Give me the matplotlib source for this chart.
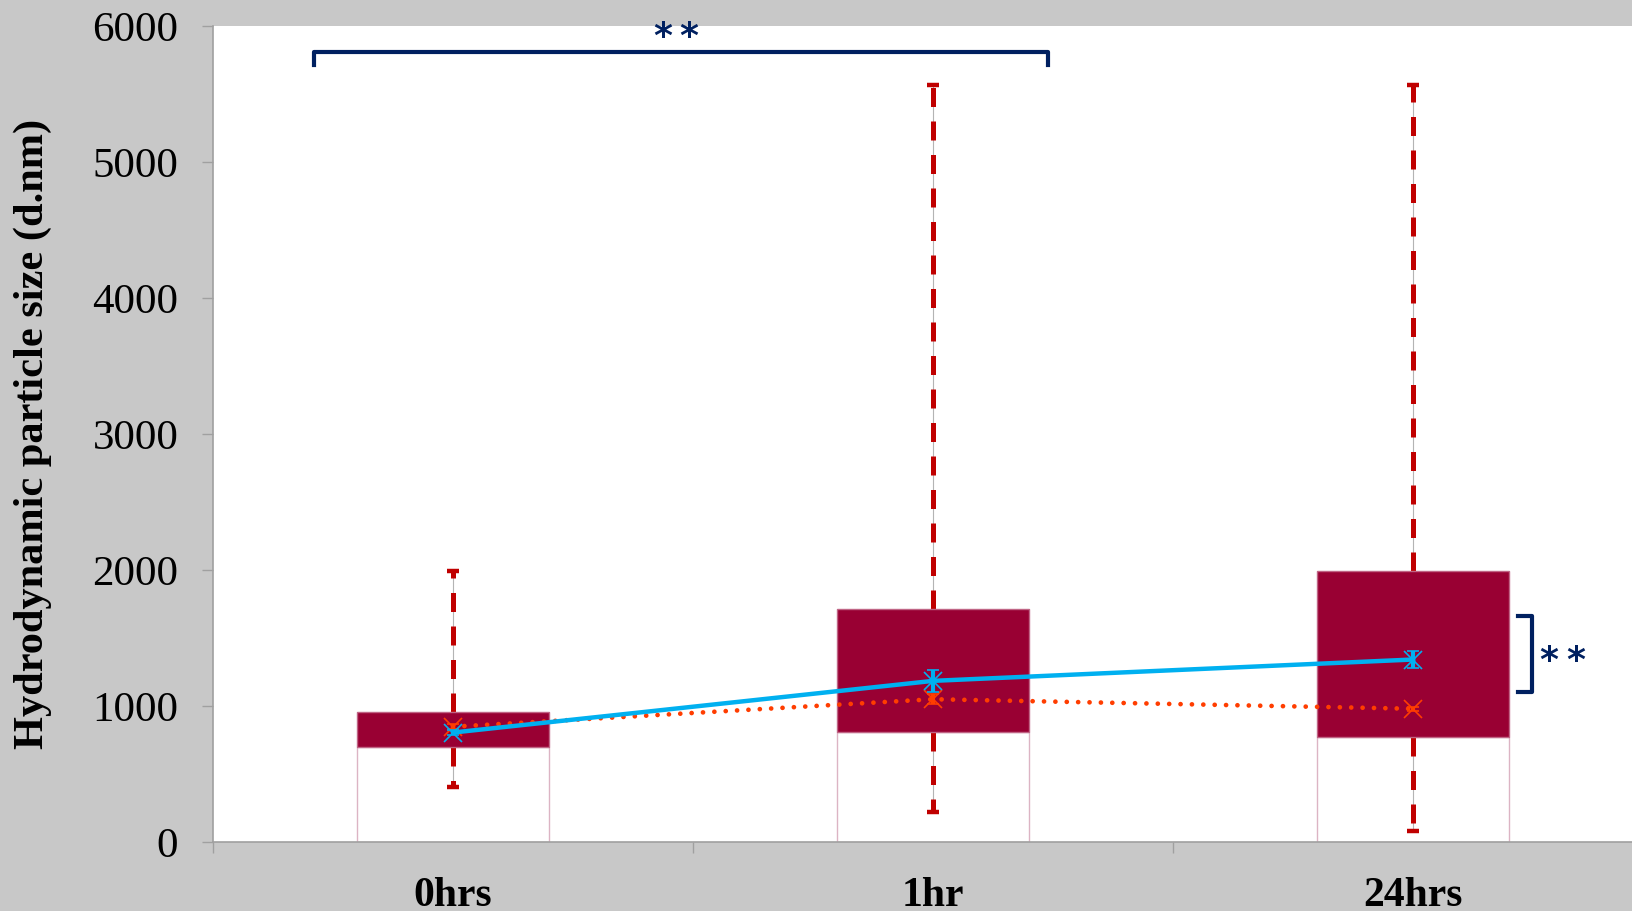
import matplotlib
matplotlib.use('Agg')
import matplotlib.pyplot as plt
import numpy as np

# box plot values (d.nm)
categories = ['0hrs', '1hr', '24hrs']
q1 = [700, 810, 775]
q3 = [955, 1710, 1990]
whisker_low = [405, 220, 80]
whisker_high = [1990, 5565, 5565]
mean_vals = [805, 1185, 1342]
mean_err = [20, 80, 65]
median_vals = [848, 1050, 980]
median_err = [20, 35, 15]

plt.rcParams['font.family'] = ['Liberation Serif', 'DejaVu Serif']

fig = plt.figure(figsize=(16.32, 9.11), dpi=100, facecolor='#c8c8c8')
ax = fig.add_axes([0.1305, 0.0757, 0.8825, 0.8958])
ax.set_facecolor('white')

x = np.arange(len(categories))
width = 0.4

# lower stacked segment (white, pink outline) and the box
ax.bar(x, q1, width, color='white', edgecolor='#dcb4c4', linewidth=1, zorder=1)
ax.bar(x, np.array(q3) - np.array(q1), width, bottom=q1, color='#990033',
       edgecolor='#c06585', linewidth=1, zorder=3)

# whiskers: thin grey line with thick red dashes
for i in range(len(categories)):
    for start, end in [(q3[i], whisker_high[i]), (q1[i], whisker_low[i])]:
        ax.plot([x[i], x[i]], [start, end], color='#b4b4b4', lw=0.8, zorder=2)
        ax.plot([x[i], x[i]], [start, end], color='#c00000', lw=3.6,
                dashes=(3.8, 2.9), solid_capstyle='butt', zorder=2)
ax.plot(x, whisker_high, ls='none', marker='_', ms=9, mew=3.2, color='#c00000', zorder=2)
ax.plot(x, whisker_low, ls='none', marker='_', ms=9, mew=3.2, color='#c00000', zorder=2)

# median (dotted orange) and mean (solid blue)
ax.errorbar(x, median_vals, yerr=median_err, color='#ff3d00', lw=3.4,
            ls=(0, (0.01, 2.4)), dash_capstyle='round', marker='x', ms=13, mew=1.2,
            ecolor='#ff3d00', elinewidth=3, capsize=4, capthick=3, zorder=4)
ax.errorbar(x, mean_vals, yerr=mean_err, color='#00b0f0', lw=3.2,
            marker='x', ms=13, mew=1.2, ecolor='#00b0f0', elinewidth=3,
            capsize=4, capthick=3, zorder=5)

# significance brackets
navy = '#002060'
ax.plot([-0.29, -0.29, 1.24, 1.24], [5710, 5810, 5810, 5710], color=navy, lw=3,
        solid_joinstyle='round', clip_on=False, zorder=6)
ax.plot([2.218, 2.248, 2.248, 2.218], [1661, 1661, 1102, 1102], color=navy, lw=3,
        solid_joinstyle='round', clip_on=False, zorder=6)
for sx, sy in [(0.437, 5844), (0.491, 5844), (2.283, 1254), (2.338, 1254)]:
    ax.text(sx, sy, '*', color=navy, fontsize=26, fontweight='bold',
            family='DejaVu Sans', ha='center', va='baseline', clip_on=False)

ax.set_xlim(-0.5, 2.5)
ax.set_ylim(0, 6000)
ax.set_yticks(range(0, 6001, 1000))
ax.set_xticks(x)
ax.set_xticklabels(categories, fontsize=30, fontweight='bold')
ax.set_xticks([-0.5, 0.5, 1.5, 2.5], minor=True)
ax.tick_params(axis='x', which='major', length=0, pad=25)
ax.tick_params(axis='x', which='minor', length=8, color='#a0a0a0', width=1, direction='out')
ax.tick_params(axis='y', length=8, color='#a0a0a0', width=1, labelsize=31, pad=17)

for side in ['top', 'right']:
    ax.spines[side].set_visible(False)
for side in ['left', 'bottom']:
    ax.spines[side].set_color('#a0a0a0')
    ax.spines[side].set_linewidth(1.2)

ax.set_ylabel('Hydrodynamic particle size (d.nm)', fontsize=30.5, fontweight='bold',
              labelpad=29)

fig.savefig('out.png', dpi=100, facecolor=fig.get_facecolor())
